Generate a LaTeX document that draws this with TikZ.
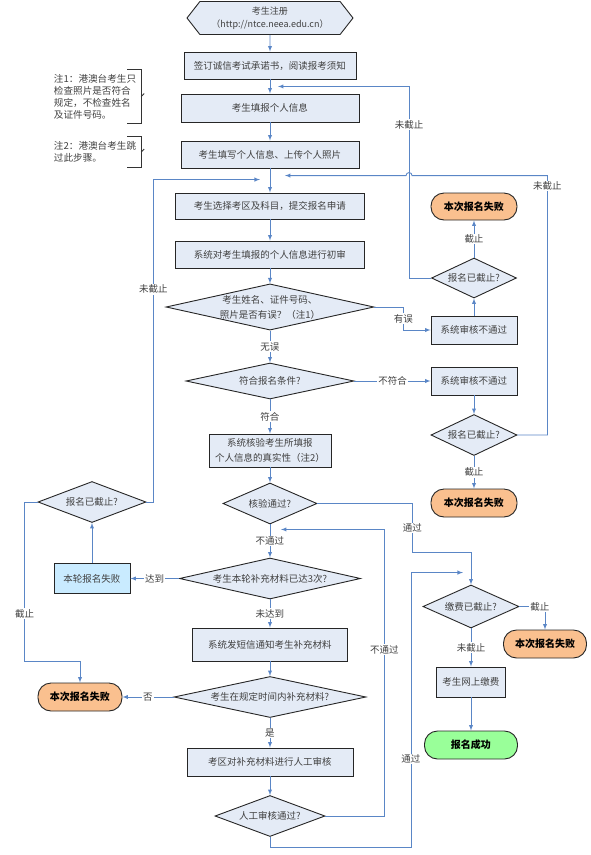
\documentclass[tikz,border=0pt]{standalone}
\usepackage{fontspec}
\setmainfont{Noto Sans CJK SC}
\usepackage{xcolor}
\usepackage{tikz}
\usetikzlibrary{shapes.geometric, shapes.symbols, arrows, positioning}
\definecolor{boxfill}{HTML}{E4EBF6}
\definecolor{lineblue}{HTML}{5A86C6}
\definecolor{failfill}{HTML}{FAC08F}
\definecolor{okfill}{HTML}{99FF99}
\definecolor{roundfill}{HTML}{C9EBFF}
\definecolor{txtgrey}{HTML}{404040}
\tikzstyle{startbox} = [signal, signal to=west and east, signal pointer angle=104, minimum width=166pt, minimum height=33pt, align=center, draw=black!85, fill=boxfill, text=txtgrey, line width=0.9pt, font=\fontsize{9}{13}\selectfont]
\tikzstyle{box} = [rectangle, minimum height=27pt, align=center, draw=black!85, fill=boxfill, text=txtgrey, line width=0.9pt, inner sep=2pt, font=\fontsize{9.5}{15}\selectfont]
\tikzstyle{dec} = [diamond, inner sep=0pt, align=center, draw=black!85, fill=boxfill, text=txtgrey, line width=0.9pt, font=\fontsize{9.5}{15}\selectfont]
\tikzstyle{term} = [rectangle, rounded corners=13pt, minimum height=28pt, align=center, draw=black!85, fill=failfill, line width=0.9pt, font=\fontsize{10}{12}\selectfont\bfseries]
\tikzstyle{note} = [text width=86pt, inner xsep=1pt, inner ysep=0pt, align=left, text=txtgrey, font=\fontsize{9.6}{12}\selectfont]
\tikzstyle{bracket} = [draw=black!80, line width=0.9pt]
\tikzstyle{arrow} = [->, >=latex, draw=lineblue, line width=0.9pt]
\tikzstyle{lbl} = [fill=white, inner sep=1pt, text=txtgrey, font=\fontsize{9.5}{11}\selectfont]

\begin{document}
\begin{tikzpicture}[node distance=50pt]
\useasboundingbox (-270pt,18pt) rectangle (320pt,-837pt);
% main column
\node (reg) [startbox] {考生注册\\（http://ntce.neea.edu.cn）};
\node (sign) [box, minimum width=172pt, below of=reg, yshift=2.5pt] {签订诚信考试承诺书，阅读报考须知};
\node (fill) [box, minimum width=178pt, minimum height=28pt, below of=sign, yshift=7.5pt] {考生填报个人信息};
\node (photo) [box, minimum width=178pt, below of=fill, yshift=3.5pt] {考生填写个人信息、上传个人照片};
\node (choose) [box, minimum width=189pt, minimum height=26pt, below of=photo, yshift=-1.5pt] {考生选择考区及科目，提交报名申请};
\node (check) [box, minimum width=189pt, below of=choose, yshift=1.5pt] {系统对考生填报的个人信息进行初审};
\node (err) [dec, minimum width=205pt, minimum height=45pt, aspect=4.5, below of=check, yshift=-2.5pt] {考生姓名、证件号码、\\照片是否有误？（注1）};
\node (cond) [dec, minimum width=168pt, minimum height=36pt, aspect=4.6, below of=err, yshift=-24pt] {符合报名条件?};
\node (verify) [box, minimum width=122pt, minimum height=33pt, below of=cond, yshift=-19.5pt] {系统核验考生所填报\\个人信息的真实性（注2）};
\node (pass) [dec, minimum width=94pt, minimum height=41pt, aspect=2.3, below of=verify, yshift=-3pt] {核验通过?};
\node (times) [dec, minimum width=181pt, minimum height=41pt, aspect=4.4, below of=pass, yshift=-25pt] {考生本轮补充材料已达3次?};
\node (sms) [box, minimum width=155pt, minimum height=33pt, below of=times, yshift=-16pt] {系统发短信通知考生补充材料};
\node (intime) [dec, minimum width=192pt, minimum height=41pt, aspect=4.7, below of=sms, yshift=-2.5pt] {考生在规定时间内补充材料?};
\node (manual) [box, minimum width=166pt, minimum height=28pt, below of=intime, yshift=-15pt] {考区对补充材料进行人工审核};
\node (mpass) [dec, minimum width=110pt, minimum height=41pt, aspect=2.7, below of=manual, yshift=-4pt] {人工审核通过?};

% right column
\node (fail1) [box, minimum width=86pt, minimum height=28pt, right of=err, xshift=154pt, yshift=-23pt] {系统审核不通过};
\node (dl1) [dec, minimum width=85pt, minimum height=40pt, aspect=2.1, above of=fail1, yshift=2pt] {报名已截止?};
\node (end1) [term, minimum width=86pt, minimum height=27pt, above of=dl1, yshift=21.5pt] {本次报名失败};
\node (fail2) [box, minimum width=86pt, minimum height=28pt, right of=cond, xshift=154pt] {系统审核不通过};
\node (dl2) [dec, minimum width=86pt, minimum height=41pt, aspect=2.1, below of=fail2, yshift=-4pt] {报名已截止?};
\node (end2) [term, minimum width=86pt, below of=dl2, yshift=-18pt] {本次报名失败};
\node (fee) [dec, minimum width=96pt, minimum height=43pt, aspect=2.2, right of=times, xshift=151pt, yshift=-28pt] {缴费已截止?};
\node (end4) [term, minimum width=83pt, right of=fee, xshift=24pt, yshift=-37.5pt] {本次报名失败};
\node (pay) [box, minimum width=69pt, minimum height=30pt, below of=fee, yshift=-25.5pt] {考生网上缴费};
\node (ok) [term, fill=okfill, minimum width=93pt, below of=pay, yshift=-13pt] {报名成功};

% left column
\node (round) [box, fill=roundfill, minimum width=76pt, minimum height=30pt, left of=times, xshift=-128pt] {本轮报名失败};
\node (dl3) [dec, minimum width=108pt, minimum height=41pt, aspect=2.6, above of=round, yshift=26.5pt] {报名已截止?};
\node (end3) [term, minimum width=84pt, left of=intime, xshift=-140pt] {本次报名失败};

% notes
\node (note1) [note, minimum height=53pt, left of=fill, xshift=-123pt, yshift=11.5pt] {注1：港澳台考生只\\检查照片是否符合\\规定，不检查姓名\\及证件号码。};
\node (note2) [note, minimum height=30pt, left of=photo, xshift=-123pt, yshift=2.5pt] {注2：港澳台考生跳\\过此步骤。};
\draw[bracket] ([xshift=-14pt]note1.north east) -- (note1.north east) -- (note1.south east) -- ([xshift=-14pt]note1.south east);
\draw[bracket] (note1.east) -- ++(3pt,3pt);
\draw[bracket] ([xshift=-14pt]note2.north east) -- (note2.north east) -- (note2.south east) -- ([xshift=-14pt]note2.south east);
\draw[bracket] (note2.east) -- ++(3pt,3pt);

% joins
\coordinate (jr1) at ([xshift=8pt,yshift=-7pt]sign.south);
\coordinate (jl) at ([xshift=-10pt,yshift=13pt]choose.north);
\coordinate (jr2) at ([xshift=15pt,yshift=17pt]choose.north);
\coordinate (jp) at ([xshift=11pt,yshift=-5pt]pass.south);
\coordinate (jf) at ([xshift=-8pt,yshift=12pt]fee.north);
\coordinate (v1) at ([xshift=-22pt]dl1.west);
\coordinate (hop) at (v1 |- jr2);

\draw[arrow] (reg) -- (sign);
\draw[arrow] (sign) -- (fill);
\draw[arrow] (fill) -- (photo);
\draw[arrow] (photo) -- (choose);
\draw[arrow] (choose) -- (check);
\draw[arrow] (check) -- (err);
\draw[arrow] (err) -- node[lbl] {无误} (cond);
\draw[arrow] (cond) -- node[lbl] {符合} (verify);
\draw[arrow] (verify) -- (pass);
\draw[arrow] (pass) -- node[lbl] {不通过} (times);
\draw[arrow] (times) -- node[lbl] {未达到} (sms);
\draw[arrow] (sms) -- (intime);
\draw[arrow] (intime) -- node[lbl] {是} (manual);
\draw[arrow] (manual) -- (mpass);

\draw[arrow] (err.east) -- ++(29pt,0) |- node[lbl, pos=0.25] {有误} (fail1.west);
\draw[arrow] (fail1) -- (dl1);
\draw[arrow] (dl1) -- node[lbl] {截止} (end1);
\draw[arrow] (dl1.west) -- (v1) |- node[lbl, pos=0.4] {未截止} (jr1);
\draw[arrow] (cond) -- node[lbl] {不符合} (fail2);
\draw[arrow] (fail2) -- (dl2);
\draw[arrow] (dl2) -- node[lbl] {截止} (end2);
\draw[arrow] (dl2.east) -- ++(30pt,0) |- node[lbl, pos=0.48] {未截止} ([xshift=3pt]hop) arc[start angle=0, end angle=180, radius=3pt] -- (jr2);

\draw[arrow] (times) -- node[lbl] {达到} (round);
\draw[arrow] (round) -- (dl3);
\draw[arrow] (dl3.east) -- ++(7pt,0) |- node[lbl, pos=0.33] {未截止} (jl);
\draw[arrow] (dl3.west) -- ++(-13pt,0) |- node[lbl, pos=0.35] {截止} ([yshift=21pt]end3.north) -- (end3.north);
\draw[arrow] (intime) -- node[lbl] {否} (end3);

\draw[arrow] (pass.east) -- ++(95pt,0) -- node[lbl] {通过} ++(0,-49pt) -| (fee.north);
\draw[arrow] (mpass.east) -- ++(59pt,0) |- node[lbl, pos=0.29] {不通过} (jp);
\draw[arrow] (mpass.south) -- ++(0,-10pt) -- ++(141pt,0) |- node[lbl, pos=0.16] {通过} (jf);
\draw[arrow] (fee.east) -| node[lbl, pos=0.4] {截止} (end4.north);
\draw[arrow] (fee) -- node[lbl] {未截止} (pay);
\draw[arrow] (pay) -- (ok);
\end{tikzpicture}
\end{document}
